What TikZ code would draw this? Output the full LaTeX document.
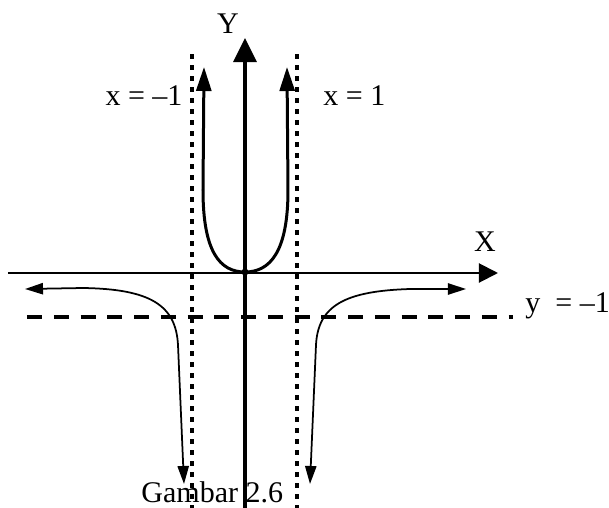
\documentclass[tikz,border=0pt]{standalone}
\usepackage{fontspec}
\setmainfont{Liberation Serif}
\usetikzlibrary{arrows.meta}

\begin{document}
\begin{tikzpicture}[
    x=0.4pt, y=-0.4pt,
    % Define common styles
        yaxis/.style={line width=1.3pt, -{Triangle[length=9.6pt, width=9.2pt]}},
        xaxis/.style={line width=0.8pt, -{Triangle[length=7.6pt, width=7.6pt]}},
        vasym/.style={line width=1.8pt, dash pattern=on 1.8pt off 2.6pt},
        hasym/.style={line width=1.3pt, dash pattern=on 6pt off 4.7pt},
        branch/.style={line width=1.2pt, {Triangle[length=9.6pt, width=6pt]}-{Triangle[length=9.6pt, width=6pt]}},
        tail/.style={line width=0.7pt, {Triangle[length=7.2pt, width=4.5pt]}-{Triangle[length=7.2pt, width=4.5pt]}},
        textlbl/.style={inner sep=0pt, font=\fontsize{12}{14}\selectfont}
    ]

        % Fix the page size
        \useasboundingbox (0,0) rectangle (609,508);

        % Asymptotes x = -1, x = 1 and y = -1
        \draw[vasym] (192,54) -- (192,508);
        \draw[vasym] (297,54) -- (297,508);
        \draw[hasym] (27,317) -- (513,317);

        % Axes
        \draw[xaxis] (8,273) -- (498,273);
        \draw[yaxis] (245,508) -- (245,38);

        % Middle branch through the origin
        \draw[branch] (204,67) -- (203,190) .. controls (203,252) and (220,272) .. (245,272)
            .. controls (270,272) and (288,252) .. (288,190) -- (287,67);
        \fill (245,272) circle (1.4pt);

        % Outer branches
        \draw[tail] (25,289) -- (83,288) .. controls (150,289) and (176,305) .. (178,345) -- (184,484);
        \draw[tail] (466,289) -- (410,289) .. controls (346,291) and (318,305) .. (316,345) -- (310,484);

        % Labels
        \node[textlbl, anchor=base] (ylbl) at (228,33) {Y};
        \node[textlbl, anchor=base] (xlbl) at (485,251) {X};
        \node[textlbl, anchor=base east] (leftasym) at (183,105) {x = –1};
        \node[textlbl, anchor=base west] (rightasym) at (323,105) {x = 1};
        \node[textlbl, anchor=base west] (horasym) at (525,312) {y\ \ = –1};
        \node[textlbl, anchor=base west] (caption) at (141,502) {Gambar 2.6};

    \end{tikzpicture}
\end{document}
